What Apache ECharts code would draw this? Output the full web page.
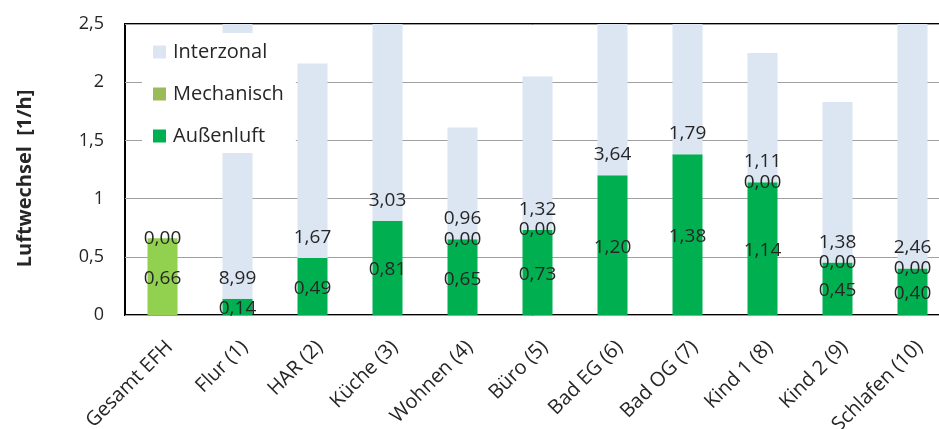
<!DOCTYPE html>
<html>
<head>
<meta charset="utf-8">
<script src="https://cdn.jsdelivr.net/npm/echarts@6/dist/echarts.min.js"></script>
<style>
  html, body { margin: 0; padding: 0; background: #fff; }
  #chart { width: 939px; height: 429px; }
</style>
</head>
<body>
<div id="chart"></div>
<script>
// Luftwechsel je Zone [1/h]
const categories = ['Gesamt EFH', 'Flur (1)', 'HAR (2)', 'Küche (3)', 'Wohnen (4)', 'Büro (5)',
  'Bad EG (6)', 'Bad OG (7)', 'Kind 1 (8)', 'Kind 2 (9)', 'Schlafen (10)'];
const aussenluft = [0.66, 0.14, 0.49, 0.81, 0.65, 0.73, 1.20, 1.38, 1.14, 0.45, 0.40];
const mechanisch = [0.00, null, null, null, 0.00, 0.00, null, null, 0.00, 0.00, 0.00];
const interzonal = [null, 8.99, 1.67, 3.03, 0.96, 1.32, 3.64, 1.79, 1.11, 1.38, 2.46];
const yTicks = { min: 0, max: 2.5, step: 0.5 };

const FONT = '"Open Sans", sans-serif';
const TEXT = '#262626';
const fmt = v => Number(v).toFixed(2).replace('.', ',');
const toData = arr => arr.map(v => (v === null ? '-' : v));

const labelBase = {
  show: true,
  fontFamily: FONT,
  fontSize: 19,
  color: TEXT,
  formatter: p => fmt(p.value)
};

const chart = echarts.init(document.getElementById('chart'), null, { renderer: 'canvas' });

chart.setOption({
  animation: false,
  backgroundColor: '#fff',
  grid: {
    left: 125, top: 24, right: -11, bottom: 114,
    outerBoundsMode: 'none',
    containLabel: false,
    show: true, borderColor: '#000', borderWidth: 2, backgroundColor: 'transparent'
  },
  legend: {
    data: ['Interzonal', 'Mechanisch', 'Außenluft'],
    orient: 'vertical',
    left: 142, top: 33,
    padding: [8, 12, 6, 11],
    backgroundColor: '#fff',
    icon: 'rect',
    itemWidth: 13, itemHeight: 13,
    itemGap: 20,
    textStyle: { fontFamily: FONT, fontSize: 20, color: TEXT, lineHeight: 22, padding: [0, 0, 0, 2] },
    z: 10
  },
  xAxis: {
    type: 'category',
    data: categories,
    axisLine: { show: false },
    axisTick: { show: false },
    axisLabel: {
      interval: 0, rotate: 45, margin: 22,
      verticalAlign: 'top',
      fontFamily: FONT, fontSize: 20, color: TEXT
    }
  },
  yAxis: {
    type: 'value',
    min: yTicks.min, max: yTicks.max, interval: yTicks.step,
    name: 'Luftwechsel  [1/h]',
    nameLocation: 'middle',
    nameGap: 90,
    nameTextStyle: {
      fontFamily: FONT, fontSize: 20, fontWeight: 'bold', color: TEXT,
      padding: [0, 18, 0, 0]
    },
    axisLine: { show: false },
    axisTick: { show: false },
    splitLine: { lineStyle: { color: '#a0a0a0', width: 1 } },
    axisLabel: {
      margin: 21,
      fontFamily: FONT, fontSize: 18, color: TEXT,
      formatter: v => String(v).replace('.', ',')
    }
  },
  series: [
    {
      name: 'Außenluft',
      type: 'bar',
      stack: 'lw',
      barWidth: 30,
      itemStyle: { color: '#00b050' },
      label: Object.assign({}, labelBase, { position: 'inside', offset: [0, 2] }),
      data: toData(aussenluft).map((v, i) => (i === 0 ? { value: v, itemStyle: { color: '#92d050' } } : v))
    },
    {
      name: 'Mechanisch',
      type: 'bar',
      stack: 'lw',
      barWidth: 30,
      itemStyle: { color: '#9bbb59' },
      label: Object.assign({}, labelBase, { position: 'inside' }),
      data: toData(mechanisch)
    },
    {
      name: 'Interzonal',
      type: 'bar',
      stack: 'lw',
      barWidth: 30,
      itemStyle: { color: '#dce6f2' },
      label: Object.assign({}, labelBase, { position: 'insideBottom', distance: 11 }),
      data: toData(interzonal)
    }
  ]
});
</script>
</body>
</html>
